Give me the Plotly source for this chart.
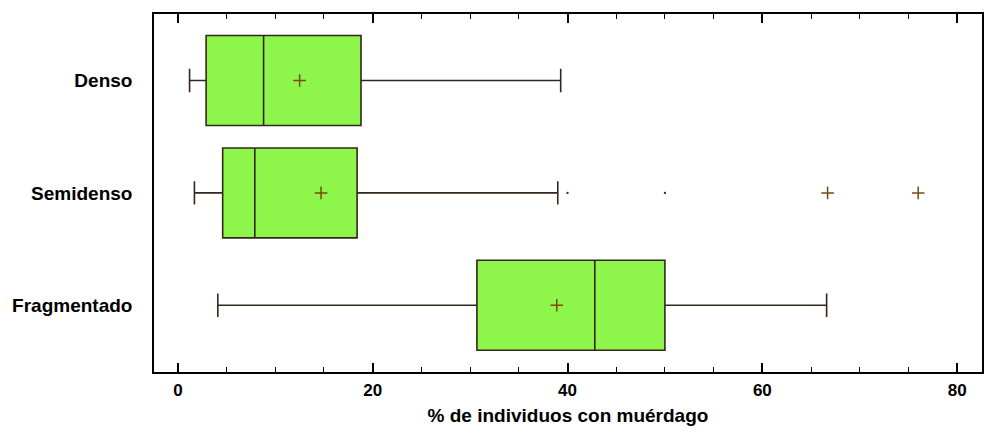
import plotly.graph_objects as go

categories = ["Denso", "Semidenso", "Fragmentado"]
positions = [0, 1, 2]
lowerfence = [1.2, 1.7, 4.1]
q1 = [2.9, 4.6, 30.7]
median = [8.8, 7.9, 42.8]
q3 = [18.8, 18.4, 50.0]
upperfence = [39.3, 39.0, 66.6]
means = [12.5, 14.7, 38.9]

# outliers (Semidenso)
near_outliers_x = [40.0, 50.0]
near_outliers_cat = [1, 1]
far_outliers_x = [66.7, 76.0]
far_outliers_cat = [1, 1]

x_ticks = [0, 20, 40, 60, 80]

line_col = "#35261c"
fill_col = "#8ef64a"
mark_col = "#7a4a10"
font = "Liberation Sans, Arial, sans-serif"

fig = go.Figure()
for i, c in enumerate(categories):
    fig.add_trace(go.Box(
        y=[positions[i]], q1=[q1[i]], median=[median[i]], q3=[q3[i]],
        lowerfence=[lowerfence[i]], upperfence=[upperfence[i]],
        orientation="h", width=0.8, whiskerwidth=0.26,
        fillcolor=fill_col, line=dict(color=line_col, width=1.6),
        boxpoints=False, name=c, showlegend=False, hoverinfo="skip",
    ))

fig.add_trace(go.Scatter(
    x=means, y=positions, mode="markers", showlegend=False,
    marker=dict(symbol="cross-thin", size=9, line=dict(color=mark_col, width=1.5)),
))
fig.add_trace(go.Scatter(
    x=near_outliers_x, y=near_outliers_cat, mode="markers", showlegend=False,
    marker=dict(symbol="square", size=2, color=line_col),
))
fig.add_trace(go.Scatter(
    x=far_outliers_x, y=far_outliers_cat, mode="markers", showlegend=False,
    marker=dict(symbol="cross-thin", size=9, line=dict(color=mark_col, width=1.5)),
))

fig.update_layout(
    width=1004, height=435,
    margin=dict(l=148, r=22, t=14, b=62),
    plot_bgcolor="white", paper_bgcolor="white",
    font=dict(family=font, color="black"),
    xaxis=dict(
        range=[-2.45, 82.55], tickvals=x_ticks, showgrid=False, zeroline=False,
        showline=True, linecolor="black", linewidth=1.5, mirror="allticks",
        ticks="inside", ticklen=9, tickwidth=1.5, tickcolor="black",
        tickfont=dict(size=17, family=font, weight="bold"),
        ticklabelstandoff=2,
        minor=dict(dtick=5, ticks="inside", ticklen=5, tickwidth=1.2, tickcolor="black"),
        title=dict(text="% de individuos con muérdago", standoff=10,
                   font=dict(size=19, family=font, weight="bold")),
    ),
    yaxis=dict(
        range=[2.594, -0.592], tickvals=positions, ticktext=categories,
        showgrid=False, zeroline=False, showline=True, linecolor="black",
        linewidth=1.5, mirror=True, ticks="", ticklabelstandoff=16,
        tickfont=dict(size=19, family=font, weight="bold"),
    ),
)

fig.write_html(
    "out.html",
    config={"displayModeBar": False},
    post_script="document.body.style.margin='0px';document.body.style.overflow='hidden';",
)
